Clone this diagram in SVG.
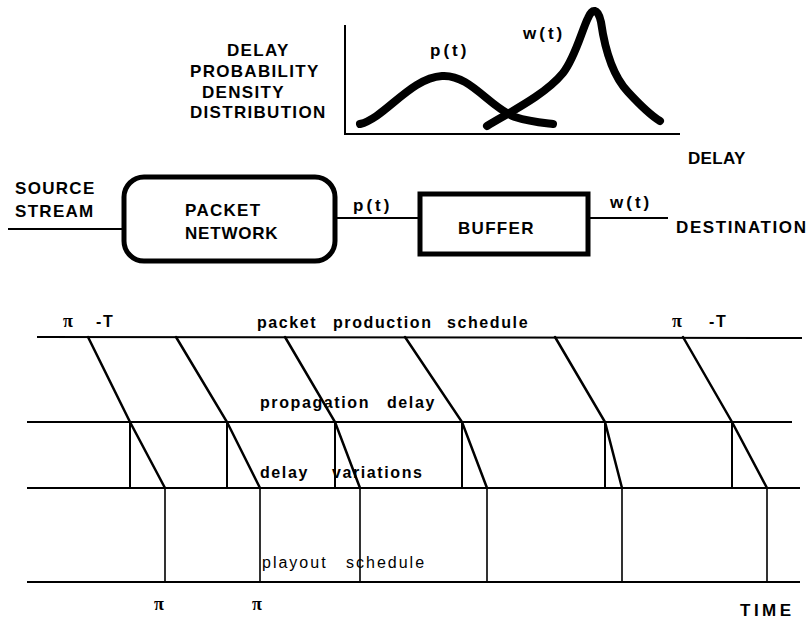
<svg xmlns="http://www.w3.org/2000/svg" width="811" height="623" viewBox="0 0 811 623">
  <style>
    .cap { font-family: "Liberation Sans", Arial, sans-serif; font-weight: bold; font-size: 17px; letter-spacing: 1.3px; fill: #000; }
    .fn { font-family: "Liberation Sans", Arial, sans-serif; font-weight: bold; font-size: 17px; letter-spacing: 3px; fill: #000; }
    .lbl { font-family: "Liberation Sans", Arial, sans-serif; font-weight: bold; font-size: 16px; letter-spacing: 1.6px; fill: #000; }
    .lbl2 { font-family: "Liberation Sans", Arial, sans-serif; font-size: 16px; letter-spacing: 2px; fill: #000; }
    .pi { font-family: "Liberation Serif", "Times New Roman", serif; font-weight: bold; font-size: 18px; fill: #000; }
    .wire { stroke: #000; stroke-width: 2; fill: none; }
    .slant { stroke: #000; stroke-width: 2.5; fill: none; stroke-linecap: round; }
    .drop { stroke: #000; stroke-width: 1.6; fill: none; }
    .curve { stroke: #000; stroke-width: 8; fill: none; stroke-linecap: round; stroke-linejoin: round; }
  </style>

  <!-- delay probability density plot -->
  <g id="density-plot">
    <text class="cap" x="227" y="56">DELAY</text>
    <text class="cap" x="190" y="77">PROBABILITY</text>
    <text class="cap" x="202" y="98">DENSITY</text>
    <text class="cap" x="190" y="118">DISTRIBUTION</text>
    <path class="wire" d="M345,25 V134 H680"/>
    <path class="curve" d="M360,124 C385,118 410,78 442,76 C470,74 490,108 515,117 C530,122 545,123 553,124"/>
    <path class="curve" d="M487,126 C510,112 545,95 563,73 C575,58 582,30 588,18 C592,8 598,8 601,22 C605,50 612,75 628,92 C640,105 650,115 660,121"/>
    <text class="fn" x="430" y="56">p(t)</text>
    <text class="fn" x="523" y="39">w(t)</text>
    <text class="cap" x="688" y="164" style="letter-spacing:0.3px">DELAY</text>
  </g>

  <!-- block chain: source, network, buffer, destination -->
  <g id="source">
    <text class="cap" x="15" y="194">SOURCE</text>
    <text class="cap" x="15" y="217">STREAM</text>
  </g>
  <g id="packet-network">
    <rect x="124" y="177" width="211" height="84" rx="20" ry="20" fill="none" stroke="#000" stroke-width="5"/>
    <text class="cap" x="185" y="216">PACKET</text>
    <text class="cap" x="185" y="239" style="letter-spacing:0.8px">NETWORK</text>
  </g>
  <g id="buffer">
    <rect x="420" y="194" width="168" height="60" fill="none" stroke="#000" stroke-width="5"/>
    <text class="cap" x="458" y="234">BUFFER</text>
  </g>
  <g id="destination">
    <text class="cap" x="676" y="233" style="letter-spacing:1.6px">DESTINATION</text>
  </g>

  <g id="connectors">
    <line class="wire" x1="8" y1="229" x2="122" y2="229"/>
    <line class="wire" x1="337" y1="218" x2="418" y2="218"/>
    <line class="wire" x1="590" y1="218" x2="668" y2="218"/>
    <text class="fn" x="353" y="211">p(t)</text>
    <text class="fn" x="610" y="208">w(t)</text>
  </g>

  <!-- timing chart -->
  <g id="timing">
    <line class="wire" x1="37" y1="337" x2="802" y2="338"/>
    <line class="wire" x1="27" y1="422" x2="792" y2="422"/>
    <line class="wire" x1="27" y1="488" x2="800" y2="488"/>
    <line class="wire" x1="27" y1="582" x2="800" y2="582"/>

    <!-- propagation delay -->
    <path class="slant" d="M88,337 L130,422 L165,488 M176,337 L227,422 L260,488 M285,337 L335,422 L360,488 M405,337 L462,422 L487,488 M555,337 L605,422 L622,488 M683,337 L732,422 L767,488"/>
    <!-- nominal arrival marks -->
    <path class="wire" d="M130,422 V488 M227,422 V488 M335,422 V488 M462,422 V488 M605,422 V488 M732,422 V488"/>
    <!-- playout instants -->
    <path class="drop" d="M165,488 V582 M260,488 V582 M360,488 V582 M487,488 V582 M622,488 V582 M767,488 V582"/>

    <text class="pi" x="63" y="327">π</text>
    <text class="lbl" x="96" y="327">-T</text>
    <text class="pi" x="672" y="327">π</text>
    <text class="lbl" x="709" y="327">-T</text>

    <text class="lbl" y="328"><tspan x="257">packet</tspan><tspan x="333">production</tspan><tspan x="447">schedule</tspan></text>
    <text class="lbl" y="408"><tspan x="260">propagation</tspan><tspan x="387">delay</tspan></text>
    <text class="lbl" y="478"><tspan x="260">delay</tspan><tspan x="332">variations</tspan></text>
    <text class="lbl2" y="568"><tspan x="262">playout</tspan><tspan x="346">schedule</tspan></text>

    <text class="pi" x="154" y="610">π</text>
    <text class="pi" x="252" y="610">π</text>
    <text class="cap" x="740" y="616" style="letter-spacing:3.5px">TIME</text>
  </g>
</svg>
